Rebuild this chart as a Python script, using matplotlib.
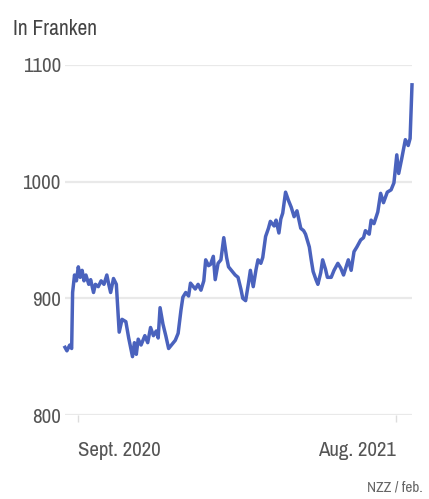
# Price chart in Swiss francs, one year of daily-ish values
import pandas as pd
import matplotlib.pyplot as plt

plt.rcParams['font.family'] = ['Archivo Narrow', 'Roboto', 'DejaVu Sans']

dates = [
    '2020-08-18', '2020-08-20', '2020-08-23', '2020-08-25', '2020-08-26', '2020-08-28',
    '2020-08-30', '2020-09-01', '2020-09-03', '2020-09-05', '2020-09-07', '2020-09-09',
    '2020-09-12', '2020-09-14', '2020-09-17', '2020-09-19', '2020-09-22', '2020-09-25',
    '2020-09-28', '2020-10-01', '2020-10-03', '2020-10-05', '2020-10-08', '2020-10-11',
    '2020-10-13', '2020-10-14', '2020-10-17', '2020-10-21', '2020-10-24', '2020-10-26',
    '2020-10-28', '2020-10-30', '2020-11-01', '2020-11-03', '2020-11-06', '2020-11-10',
    '2020-11-13', '2020-11-16', '2020-11-19', '2020-11-22', '2020-11-24', '2020-11-26',
    '2020-11-29', '2020-12-02', '2020-12-05', '2020-12-08', '2020-12-12', '2020-12-15',
    '2020-12-18', '2020-12-20', '2020-12-23', '2020-12-26', '2020-12-28', '2020-12-31',
    '2021-01-02', '2021-01-05', '2021-01-08', '2021-01-11', '2021-01-13', '2021-01-16',
    '2021-01-18', '2021-01-21', '2021-01-23', '2021-01-26', '2021-01-29', '2021-02-01',
    '2021-02-04', '2021-02-06', '2021-02-10', '2021-02-13', '2021-02-16', '2021-02-19',
    '2021-02-21', '2021-02-24', '2021-02-27', '2021-03-01', '2021-03-04', '2021-03-07',
    '2021-03-09', '2021-03-12', '2021-03-14', '2021-03-17', '2021-03-20', '2021-03-22',
    '2021-03-26', '2021-03-28', '2021-03-31', '2021-04-02', '2021-04-04', '2021-04-07',
    '2021-04-10', '2021-04-13', '2021-04-16', '2021-04-19', '2021-04-23', '2021-04-26',
    '2021-04-28', '2021-05-02', '2021-05-04', '2021-05-06', '2021-05-09', '2021-05-11',
    '2021-05-14', '2021-05-16', '2021-05-19', '2021-05-21', '2021-05-25', '2021-05-28',
    '2021-06-01', '2021-06-04', '2021-06-07', '2021-06-12', '2021-06-15', '2021-06-18',
    '2021-06-21', '2021-06-25', '2021-06-28', '2021-06-30', '2021-07-04', '2021-07-06',
    '2021-07-09', '2021-07-13', '2021-07-16', '2021-07-19', '2021-07-23', '2021-07-27',
    '2021-07-30', '2021-08-02', '2021-08-04', '2021-08-07', '2021-08-11', '2021-08-14',
    '2021-08-16', '2021-08-18',
]
prices = [
    858, 855, 860, 857, 905, 920,
    915, 927, 918, 924, 915, 920,
    912, 916, 905, 912, 910, 915,
    912, 920, 912, 905, 917, 912,
    884, 871, 882, 880, 866, 858,
    850, 862, 852, 865, 860, 868,
    862, 875, 868, 872, 866, 892,
    878, 868, 857, 860, 864, 870,
    890, 901, 905, 902, 913, 910,
    908, 912, 907, 915, 933, 928,
    929, 936, 916, 930, 933, 952,
    935, 927, 923, 920, 918, 908,
    900, 898, 913, 924, 910, 925,
    933, 930, 935, 953, 960, 966,
    962, 967, 956, 968, 973, 991,
    984, 978, 970, 975, 960, 958,
    955, 944, 933, 923, 916, 912,
    922, 933, 925, 918, 918, 924,
    930, 926, 920, 933, 924, 940,
    944, 950, 952, 958, 955, 967,
    964, 974, 990, 982, 991, 993,
    999, 1023, 1007, 1019, 1036, 1031,
    1037, 1083,
]
y_ticks = [800, 900, 1000, 1100]
x_ticks = ['2020-09-01', '2021-08-01']
x_labels = ['Sept. 2020', 'Aug. 2021']

df = pd.DataFrame({'date': pd.to_datetime(dates), 'price': prices})

fig = plt.figure(figsize=(4.29, 4.99), dpi=100)
ax = fig.add_axes([65 / 429, 84 / 499, 347 / 429, 350 / 499])

ax.plot(df['date'], df['price'], color='#4a62bd', linewidth=2.5,
        solid_joinstyle='round', clip_on=False, zorder=3)

ax.set_xlim(pd.Timestamp('2020-08-18'), pd.Timestamp('2021-08-18'))
ax.set_ylim(800, 1100)

for v in y_ticks:
    ax.axhline(v, color='#e9e9e9', linewidth=1.6, zorder=1)

ax.set_yticks(y_ticks)
ax.set_yticklabels([str(v) for v in y_ticks], fontsize=15, color='#555555')
ax.tick_params(axis='y', length=0, pad=3)

ax.set_xticks(pd.to_datetime(x_ticks))
ax.set_xticklabels(x_labels, fontsize=15, color='#555555')
ax.tick_params(axis='x', length=5, width=1, color='#dddddd', pad=14)
xl = ax.get_xticklabels()
xl[0].set_ha('left')
xl[1].set_ha('right')

for s in ax.spines.values():
    s.set_visible(False)

fig.text(13 / 429, 1 - 35 / 499, 'In Franken', fontsize=15.5, color='#444444',
         ha='left', va='baseline')
fig.text(423 / 429, 1 - 492 / 499, 'NZZ / feb.', fontsize=11, color='#666666',
         ha='right', va='baseline')

fig.savefig('out.png', dpi=100, facecolor='white')
